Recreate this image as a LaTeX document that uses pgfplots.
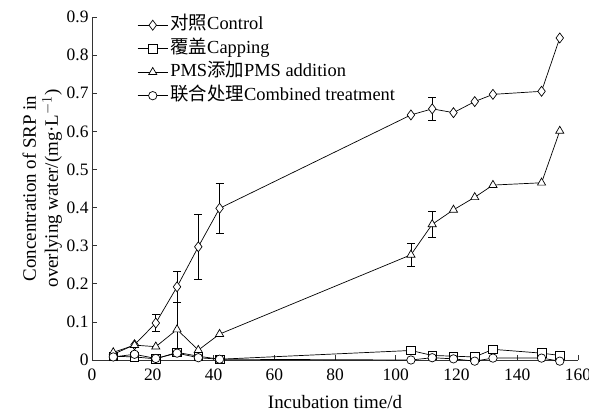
\documentclass[border=0pt]{standalone}
\usepackage{fontspec}
\setmainfont{Liberation Serif}
\newfontfamily\cjk{Noto Sans CJK SC}
\usepackage{pgfplots}
\pgfplotsset{compat=1.18}
\begin{document}
\begin{tikzpicture}
\path[use as bounding box] (-92bp,-54bp) rectangle (497bp,360bp);
\begin{axis}[
  at={(0,0)}, anchor=south west,
  scale only axis,
  width=486bp, height=343bp,
  xmin=0, xmax=160, ymin=0, ymax=0.9,
  axis x line*=bottom, axis y line*=left,
  axis line style={-, line width=0.9pt, black!80},
  tick align=inside,
  major tick length=5bp,
  tick style={line width=0.7pt, black!80},
  xtick={0,20,...,160},
  ytick={0,0.1,0.2,0.3,0.4,0.5,0.6,0.7,0.8,0.9},
  /pgf/number format/assume math mode=true,
  yticklabel style={/pgf/number format/fixed, /pgf/number format/precision=1},
  xticklabel style={yshift=-5bp},
  tick label style={font=\fontsize{17.5}{19}\selectfont},
  label style={font=\fontsize{19}{22}\selectfont},
  xlabel={Incubation time/d},
  xlabel style={yshift=-8bp},
  ylabel={Concentration of SRP in\\overlying water/(mg·L$^{-1}$)},
  ylabel style={align=center, yshift=-2bp},
  clip=false,
  legend cell align=left,
  legend style={at={(0.093,1.011)}, anchor=north west, draw=none, fill=none,
    font=\fontsize{18.5}{19}\selectfont, row sep=0pt, inner sep=0pt,
    nodes={inner sep=2.25bp, text height=14bp, text depth=5bp}},
  legend image code/.code={\draw[mark repeat=2,mark phase=2] plot coordinates {(0bp,0bp) (15bp,0bp) (30bp,0bp)};},
  every axis plot/.append style={black, line width=0.7pt, mark options={fill=white, solid, line width=0.7pt}},
  error bars/error bar style={line width=0.7pt, black},
  error bars/error mark options={rotate=90, mark size=4bp, line width=0.7pt, black},
]
% error bars (drawn first)
\addplot[draw=none, mark=none, forget plot, error bars/.cd, y dir=both, y explicit]
  table[x=x, y=y, y error=e] {
x y e
21 0.097 0.022
28 0.192 0.041
35 0.297 0.085
42 0.398 0.065
112 0.659 0.030
};
\addplot[draw=none, mark=none, forget plot, error bars/.cd, y dir=both, y explicit]
  table[x=x, y=y, y error=e] {
x y e
28 0.080 0.070
105 0.276 0.030
112 0.356 0.034
};
% Control
\addplot[mark=diamond*, mark size=5bp] table {
x y
7 0.015
14 0.040
21 0.097
28 0.192
35 0.297
42 0.398
105 0.643
112 0.659
119 0.649
126 0.678
132 0.697
148 0.705
154 0.845
};
\addlegendentry{{\cjk 对照}Control}
% Capping
\addplot[mark=square*, mark size=4.3bp] table {
x y
7 0.010
14 0.008
21 0.003
28 0.020
35 0.010
42 0.002
105 0.025
112 0.012
119 0.010
126 0.008
132 0.028
148 0.018
154 0.012
};
\addlegendentry{{\cjk 覆盖}Capping}
% PMS addition
\addplot[mark=triangle*, mark size=4.7bp] table {
x y
7 0.020
14 0.039
21 0.035
28 0.080
35 0.026
42 0.068
105 0.276
112 0.356
119 0.394
126 0.427
132 0.459
148 0.465
154 0.601
};
\addlegendentry{PMS{\cjk 添加}PMS addition}
% Combined treatment
\addplot[mark=*, mark size=4.2bp] table {
x y
7 0.008
14 0.015
21 0.004
28 0.018
35 0.006
42 0.002
105 0.000
112 0.006
119 0.003
126 -0.003
132 0.005
148 0.005
154 -0.003
};
\addlegendentry{{\cjk 联合处理}Combined treatment}
\end{axis}
\end{tikzpicture}
\end{document}
